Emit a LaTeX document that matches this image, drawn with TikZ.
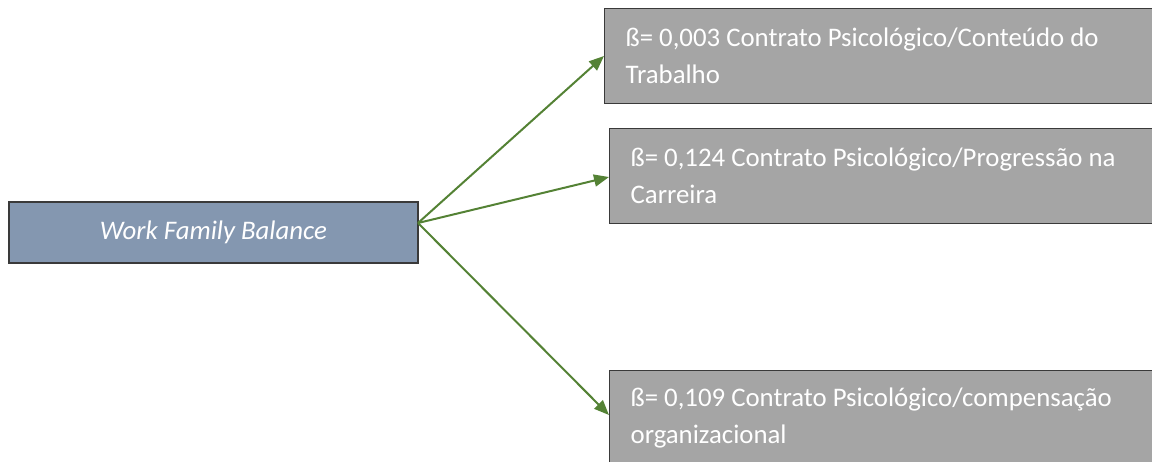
\documentclass[tikz,border=0pt]{standalone}
\usepackage{fontspec}
\setmainfont{Carlito}
\usetikzlibrary{arrows.meta}
\definecolor{srcfill}{HTML}{8497B0}
\definecolor{tgtfill}{HTML}{A5A5A5}
\definecolor{edge}{HTML}{3A3A3A}
\definecolor{arrowgreen}{HTML}{548235}
\tikzset{
  box/.style={draw=edge, line width=1.3pt, anchor=north west, text=white,
    font=\fontsize{26.8}{37}\selectfont, inner sep=0pt},
  srcbox/.style={box, fill=srcfill, font=\fontsize{26.8}{30}\selectfont\itshape,
    anchor=center},
  tgtbox/.style={box, fill=tgtfill, align=flush left, minimum height=95pt,
    minimum width=560pt, text width=518pt},
  link/.style={draw=arrowgreen, line width=2pt,
    -{Triangle[length=15pt,width=12pt]}}
}
\begin{document}
\begin{tikzpicture}[x=1pt,y=-1pt]
  \useasboundingbox (0,0) rectangle (1152,461);
  \clip (0,0) rectangle (1152,461);
  \node[srcbox, minimum width=409pt, minimum height=61pt] (wfb) at (213.5,232.5)
    {Work Family Balance};
  \node[tgtbox] (t1) at (604,8)
    {ß= 0,003 Contrato Psicológico/Conteúdo do\\Trabalho};
  \node[tgtbox] (t2) at (609,128)
    {ß= 0,124 Contrato Psicológico/Progressão na\\Carreira};
  \node[tgtbox] (t3) at (609,370)
    {ß= 0,109 Contrato Psicológico/compensação\\organizacional};
  \coordinate (hub) at (418,223);
  \draw[link] (hub) -- (t1.west |- 0,56);
  \draw[link] (hub) -- (t2.west |- 0,177);
  \draw[link] (hub) -- (t3.west |- 0,415);
\end{tikzpicture}
\end{document}
